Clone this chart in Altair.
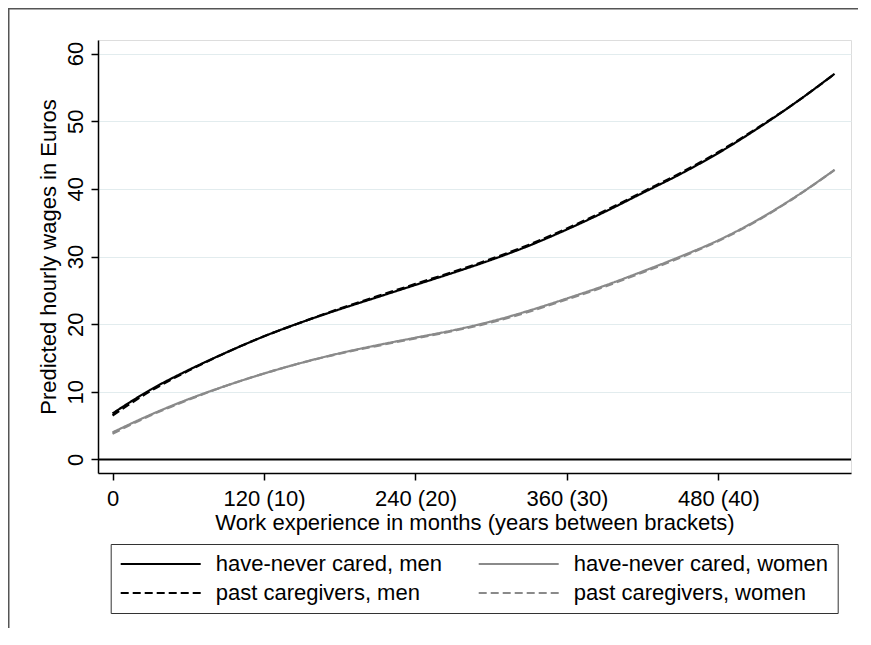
import altair as alt
import pandas as pd

# ---- data ----
months = [0, 30, 60, 90, 120, 150, 180, 210, 240, 270, 300, 330, 360, 390, 420, 450, 480, 510, 540, 572]
never_men = [6.8, 10.3, 13.2, 15.8, 18.2, 20.3, 22.2, 24.0, 25.8, 27.6, 29.5, 31.6, 34.0, 36.6, 39.4, 42.2, 45.3, 48.8, 52.6, 57.0]
past_men = [6.5, 10.1, 13.1, 15.8, 18.2, 20.3, 22.3, 24.15, 25.95, 27.75, 29.65, 31.75, 34.15, 36.75, 39.55, 42.35, 45.45, 48.9, 52.6, 57.0]
never_women = [4.0, 6.6, 8.9, 10.9, 12.7, 14.3, 15.7, 16.9, 18.0, 19.1, 20.4, 22.0, 23.8, 25.7, 27.8, 30.0, 32.4, 35.3, 38.7, 42.8]
past_women = [3.8, 6.5, 8.8, 10.9, 12.7, 14.3, 15.65, 16.8, 17.9, 19.0, 20.25, 21.85, 23.65, 25.55, 27.65, 29.85, 32.3, 35.2, 38.65, 42.8]

# order chosen so that the 2-column legend reads like the reference
series_names = ["have-never cared, men", "past caregivers, men",
                "have-never cared, women", "past caregivers, women"]
series_colors = ["#000000", "#000000", "#8a8a8a", "#8a8a8a"]
series_dashes = [[1, 0], [8, 4], [1, 0], [8, 4]]
series_values = [never_men, past_men, never_women, past_women]
draw_order = [0, 2, 1, 3]  # solid lines first, dashed on top

y_ticks = [0, 10, 20, 30, 40, 50, 60]
x_ticks = [0, 120, 240, 360, 480]
x_tick_labels = ["0", "120 (10)", "240 (20)", "360 (30)", "480 (40)"]

x_title = "Work experience in months (years between brackets)"
y_title = "Predicted hourly wages in Euros"

# ---- long table ----
rows = []
for k, (name, vals) in enumerate(zip(series_names, series_values)):
    for m, v in zip(months, vals):
        rows.append({"series": name, "months": m, "wage": v, "order": draw_order[k]})
df = pd.DataFrame(rows)

label_expr = " : ".join(
    f"datum.value == {v} ? '{lab}'" for v, lab in zip(x_ticks, x_tick_labels)
) + " : ''"

FONT = "Liberation Sans"
FS = 22
W, H = 753, 433

legend = alt.Legend(
    orient="none", legendX=12.7, legendY=504, columns=2, title=None,
    symbolType="stroke", symbolSize=6400, symbolStrokeWidth=2,
    labelFont=FONT, labelFontSize=FS, labelColor="black", labelOffset=14,
    labelLimit=500, padding=9, rowPadding=7, columnPadding=35,
    strokeColor="#333333", fillColor="white", clipHeight=22,
)

x_enc = alt.X(
    "months:Q",
    scale=alt.Scale(domain=[-11.5, 585], nice=False, zero=False),
    axis=alt.Axis(
        values=x_ticks, labelExpr=label_expr, title=x_title,
        labelFont=FONT, labelFontSize=FS, labelColor="black",
        labelBaseline="alphabetic", labelPadding=25, labelFlush=False,
        tickSize=7, tickColor="black", tickWidth=1.5,
        domainColor="black", domainWidth=1.5, grid=False,
        titleFont=FONT, titleFontSize=FS, titleFontWeight="normal", titleColor="black",
        titleX=W / 2, titleY=56, titleBaseline="alphabetic", titleAlign="center",
    ),
)
y_enc = alt.Y(
    "wage:Q",
    scale=alt.Scale(domain=[-2, 62], nice=False, zero=False),
    axis=alt.Axis(
        values=y_ticks, title=y_title,
        labelFont=FONT, labelFontSize=FS, labelColor="black",
        labelAngle=270, labelAlign="center", labelBaseline="alphabetic",
        labelPadding=9, labelFlush=False,
        tickSize=7, tickColor="black", tickWidth=1.5,
        domainColor="black", domainWidth=1.5,
        grid=True, gridColor="#e2ecee", gridWidth=1.2,
        titleFont=FONT, titleFontSize=FS, titleFontWeight="normal", titleColor="black",
        titleAngle=270, titleX=-43, titleY=H / 2, titleBaseline="alphabetic",
        titleAlign="center",
    ),
)

lines = alt.Chart(df).mark_line(strokeWidth=2.2, interpolate="monotone").encode(
    x=x_enc,
    y=y_enc,
    color=alt.Color("series:N", scale=alt.Scale(domain=series_names, range=series_colors),
                    legend=legend),
    strokeDash=alt.StrokeDash("series:N",
                              scale=alt.Scale(domain=series_names, range=series_dashes),
                              legend=legend),
    order="order:Q",
    detail="series:N",
)

zero = alt.Chart(pd.DataFrame({"wage": [0]})).mark_rule(color="black", strokeWidth=2).encode(
    y="wage:Q"
)

# figure frame (decoration): an outline whose right and bottom edges fall outside the page
frame_df = pd.DataFrame({"a": [0]})
frame = alt.Chart(frame_df).mark_rect(
    fillOpacity=0, stroke="#555555", strokeWidth=1.5
).encode(
    x=alt.value(-89.25), x2=alt.value(W + 60),
    y=alt.value(-31.25), y2=alt.value(H + 220),
)

chart = alt.layer(zero, lines, frame).properties(
    width=W, height=H,
    autosize=alt.AutoSizeParams(type="none"),
    padding={"left": 90, "top": 32, "right": 7, "bottom": 155},
).configure_view(stroke=None).configure(background="white")

chart.save("out.html", embed_options={"renderer": "svg", "actions": False})
